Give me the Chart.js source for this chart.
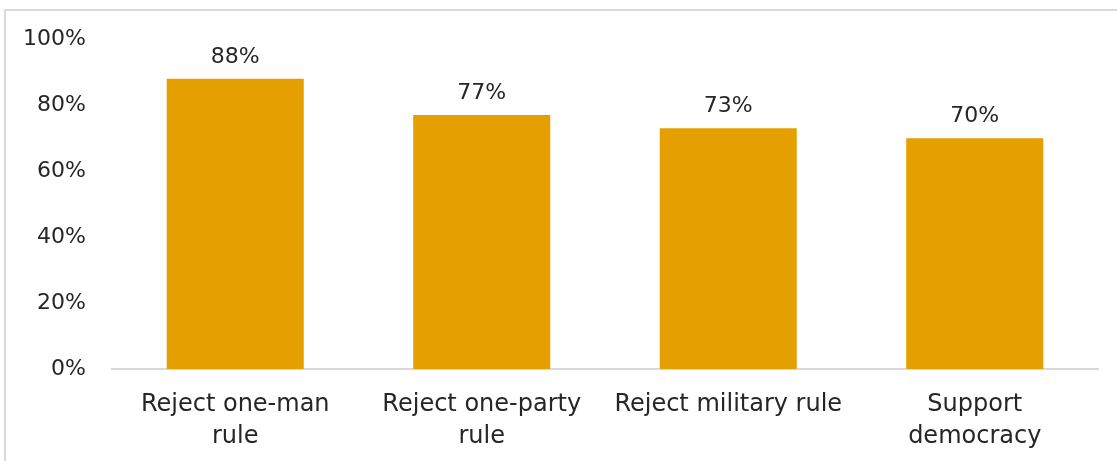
<!DOCTYPE html>
<html><head><meta charset="utf-8">
<script src="https://cdn.jsdelivr.net/npm/chart.js@4"></script>
<style>
html,body{margin:0;padding:0;background:#fff;overflow:hidden;}
#frame{position:absolute;left:4px;top:9px;width:1200px;height:600px;border:2px solid #d9d9d9;box-sizing:border-box;}
#wrap{position:absolute;left:0;top:0;width:1117px;height:461px;}
</style></head>
<body>
<div id="frame"></div>
<div id="wrap"><canvas id="c" width="1117" height="461"></canvas></div>
<script>
const categories = [["Reject one-man","rule"],["Reject one-party","rule"],["Reject military rule"],["Support","democracy"]];
const values = [88, 77, 73, 70];
const yTicks = [0, 20, 40, 60, 80, 100];
const FONT = "'DejaVu Sans', sans-serif";
const TXT = '#262626';

const labelPlugin = {
  id: 'valueLabels',
  afterDatasetsDraw(chart) {
    const ctx = chart.ctx;
    const meta = chart.getDatasetMeta(0);
    ctx.save();
    ctx.font = '22px ' + FONT;
    ctx.fillStyle = TXT;
    ctx.textAlign = 'center';
    ctx.textBaseline = 'alphabetic';
    meta.data.forEach((el, i) => {
      ctx.fillText(values[i] + '%', el.x, el.y - 16);
    });
    ctx.restore();
  }
};

new Chart(document.getElementById('c'), {
  type: 'bar',
  data: { labels: categories, datasets: [{ data: values, backgroundColor: '#E69F00', categoryPercentage: 0.556, barPercentage: 1 }] },
  options: {
    responsive: false, animation: false,
    layout: { padding: { top: 39, right: 19, left: 0, bottom: 0 } },
    plugins: { legend: { display: false }, tooltip: { enabled: false } },
    scales: {
      x: {
        grid: { display: false, drawTicks: false },
        border: { display: true, color: '#d9d9d9', width: 2 },
        ticks: { color: TXT, font: { family: FONT, size: 24, lineHeight: 1.33 }, padding: 20, maxRotation: 0, autoSkip: false },
        afterFit(s) { s.height = 92; }
      },
      y: {
        min: 0, max: 100,
        afterBuildTicks(s) { s.ticks = yTicks.map(v => ({ value: v })); },
        grid: { display: false, drawTicks: false },
        border: { display: false },
        ticks: { color: TXT, font: { family: FONT, size: 22 }, padding: 26, callback: v => v + '%' },
        afterFit(s) { s.width = 112; }
      }
    }
  },
  plugins: [labelPlugin]
});
</script>
</body></html>
